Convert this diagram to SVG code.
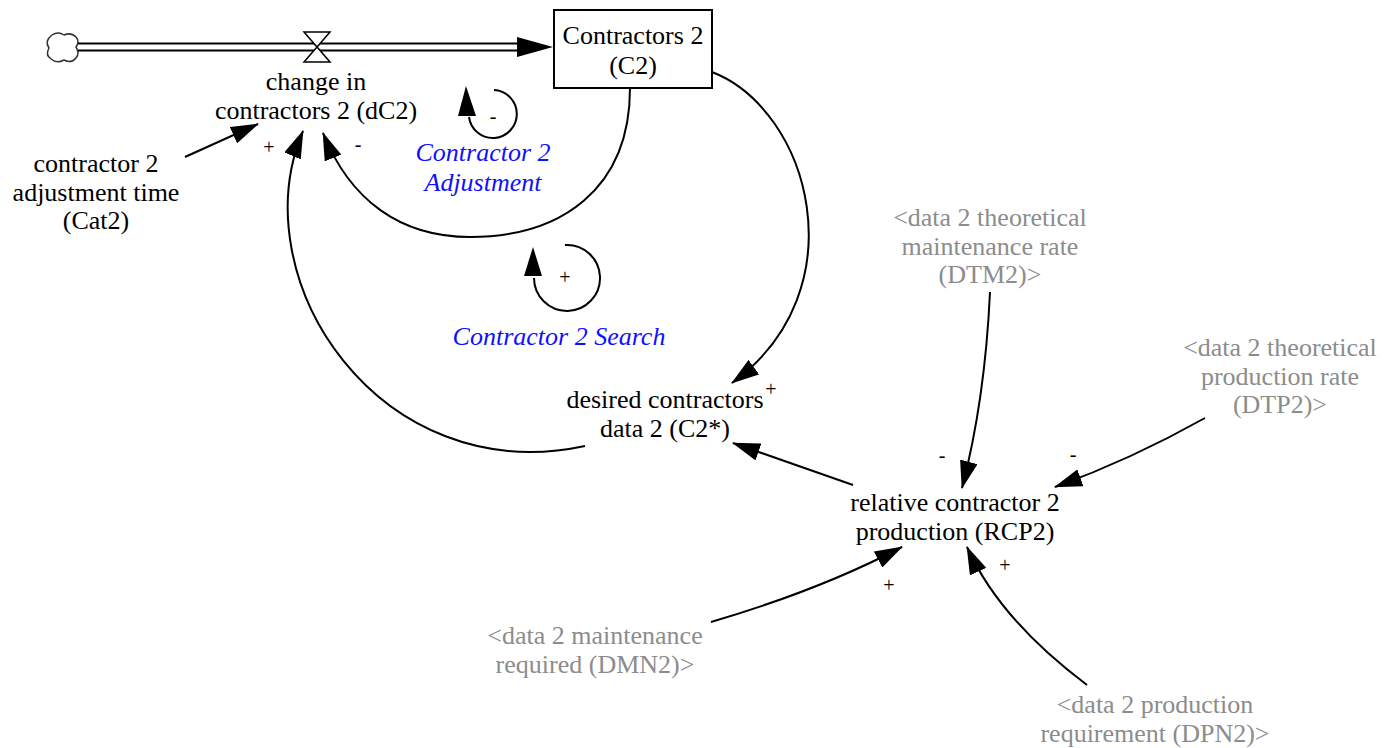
<svg xmlns="http://www.w3.org/2000/svg" width="1387" height="748" viewBox="0 0 1387 748">
<style>
text{font-family:'Liberation Serif','DejaVu Serif',serif;font-size:26px;text-anchor:middle;fill:#000}
.g{fill:#8c8c8c}
.b{fill:#1010ff;font-style:italic}
.s{font-size:20px}
.c{fill:none;stroke:#000;stroke-width:2}
</style>
<defs>
<marker id="ah" markerUnits="userSpaceOnUse" markerWidth="28" markerHeight="18" viewBox="0 0 28 18" refX="27" refY="9" orient="auto">
<path d="M0,0 L28,9 L0,18 Z" fill="#000"/>
</marker>
</defs>
<g id="cloud">
<path d="M52,35 Q58,31 64,35 Q71,32 76,37 Q80,42 76,47 Q80,53 76,58 Q71,64 64,60 Q57,64 51,59 Q45,55 49,48 Q44,41 52,35 Z" fill="#fff" stroke="#333" stroke-width="1.5"/>
</g>
<g id="flow">
<line x1="78" y1="47" x2="522" y2="47" stroke="#000" stroke-width="9"/>
<line x1="78" y1="47" x2="524" y2="47" stroke="#fff" stroke-width="5"/>
<path d="M517,37 L553,47 L517,57 Z" fill="#000"/>
<path d="M304,32 L330,32 L317,47 Z M317,47 L304,62 L330,62 Z" fill="#fff" stroke="#000" stroke-width="1.5"/>
</g>
<g id="dC2">
<text x="316" y="90">change in</text>
<text x="316" y="119">contractors 2 (dC2)</text>
</g>
<g id="C2">
<rect x="554" y="10" width="158" height="78" fill="#fff" stroke="#000" stroke-width="2"/>
<text x="633" y="44">Contractors 2</text>
<text x="633" y="74">(C2)</text>
</g>
<g id="Cat2">
<text x="96" y="172">contractor 2</text>
<text x="96" y="201">adjustment time</text>
<text x="96" y="229">(Cat2)</text>
</g>
<g id="loopAdjustment">
<path class="c" d="M494,90 A24,24 0 1 1 469,117"/>
<path d="M466,86 L476,116 L458,116 Z" fill="#000"/>
<text class="s" x="493" y="123">-</text>
<text class="b" x="483" y="161">Contractor 2</text>
<text class="b" x="483" y="191">Adjustment</text>
</g>
<g id="loopSearch">
<path class="c" d="M565,245 A33,33 0 1 1 534,278"/>
<path d="M533,247 L542,276 L524,276 Z" fill="#000"/>
<text class="s" x="565" y="284">+</text>
<text class="b" x="559" y="345">Contractor 2 Search</text>
</g>
<g id="desired">
<text x="665" y="408">desired contractors</text>
<text x="665" y="437">data 2 (C2*)</text>
</g>
<g id="RCP2">
<text x="955" y="511">relative contractor 2</text>
<text x="955" y="540">production (RCP2)</text>
</g>
<g id="DTM2">
<text class="g" x="990" y="226">&lt;data 2 theoretical</text>
<text class="g" x="990" y="255">maintenance rate</text>
<text class="g" x="990" y="283">(DTM2)&gt;</text>
</g>
<g id="DTP2">
<text class="g" x="1280" y="356">&lt;data 2 theoretical</text>
<text class="g" x="1280" y="385">production rate</text>
<text class="g" x="1280" y="413">(DTP2)&gt;</text>
</g>
<g id="DMN2">
<text class="g" x="595" y="644">&lt;data 2 maintenance</text>
<text class="g" x="595" y="673">required (DMN2)&gt;</text>
</g>
<g id="DPN2">
<text class="g" x="1155" y="713">&lt;data 2 production</text>
<text class="g" x="1155" y="742">requirement (DPN2)&gt;</text>
</g>
<g id="connectors">
<path class="c" marker-end="url(#ah)" d="M185,157 L258,124"/>
<path class="c" marker-end="url(#ah)" d="M585,446 C380,490 240,280 303,131"/>
<path class="c" marker-end="url(#ah)" d="M630,88 C630,190 560,237 470,237 C400,237 350,200 323,133"/>
<path class="c" marker-end="url(#ah)" d="M712,72 C810,110 860,290 732,383"/>
<path class="c" marker-end="url(#ah)" d="M853,485 L733,443"/>
<path class="c" marker-end="url(#ah)" d="M990,292 Q985,400 962,488"/>
<path class="c" marker-end="url(#ah)" d="M1205,418 Q1130,460 1055,487"/>
<path class="c" marker-end="url(#ah)" d="M711,622 Q820,590 902,547"/>
<path class="c" marker-end="url(#ah)" d="M1087,685 Q1000,620 967,547"/>
<text class="s" x="269" y="154">+</text>
<text class="s" x="358" y="151">-</text>
<text class="s" x="771" y="396">+</text>
<text class="s" x="942" y="462">-</text>
<text class="s" x="1073" y="461">-</text>
<text class="s" x="889" y="592">+</text>
<text class="s" x="1005" y="572">+</text>
</g>
</svg>
